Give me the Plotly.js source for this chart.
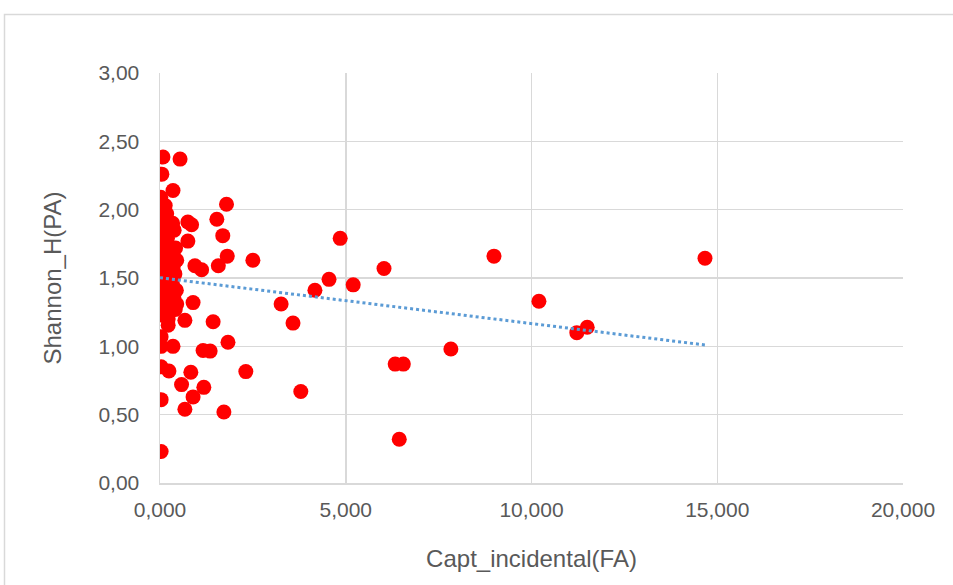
<!DOCTYPE html>
<html>
<head>
<meta charset="utf-8">
<script src="https://cdn.plot.ly/plotly-3.0.1.min.js"></script>
<style>html,body{margin:0;padding:0;background:#fff;}#chart{width:953px;height:585px;}</style>
</head>
<body>
<div id="chart"></div>
<script>
// Capt_incidental(FA) values (axis shown as 0,000 .. 20,000)
const captIncidental = [
  // dense cluster near zero
  0.02,0.03,0.02,0.04,0.03,0.02,0.05,0.03,0.02,0.04,0.03,0.02,0.05,0.03,0.02,0.04,0.03,0.02,0.03,0.04,0.02,
  0.14,0.18,0.12,0.22,0.16,0.20,0.13,0.25,0.17,0.21,0.15,0.24,0.19,0.12,0.23,0.18,0.14,0.26,0.16,0.22,
  0.34,0.38,0.42,0.31,0.45,0.36,0.40,0.33,0.44,0.37,0.30,0.41,
  // scattered
  0.08,0.54,0.05,0.35,1.79,0.75,1.53,0.85,1.69,0.75,4.85,1.81,8.99,14.67,2.50,6.03,1.57,0.94,1.12,
  4.55,4.17,5.20,10.20,3.26,0.89,0.45,1.43,3.58,0.67,0.22,11.50,11.22,
  1.83,1.16,1.35,0.35,0.03,0.03,7.83,6.33,6.55,2.31,0.83,0.24,0.03,
  0.58,1.18,3.79,0.89,0.03,0.67,1.72,6.44,0.03
];
// Shannon_H(PA) values
const shannonH = [
  2.09,2.05,1.99,1.95,1.91,1.86,1.82,1.78,1.74,1.70,1.66,1.62,1.58,1.54,1.50,1.46,1.42,1.38,1.34,1.29,1.23,
  2.03,1.97,1.93,1.88,1.84,1.79,1.75,1.71,1.68,1.64,1.60,1.55,1.51,1.47,1.43,1.39,1.35,1.28,1.24,1.20,
  1.90,1.85,1.72,1.67,1.63,1.59,1.53,1.46,1.41,1.36,1.32,1.27,
  2.385,2.37,2.26,2.14,2.04,1.91,1.93,1.89,1.81,1.77,1.79,1.66,1.66,1.645,1.63,1.57,1.59,1.59,1.56,
  1.49,1.41,1.45,1.33,1.31,1.32,1.31,1.18,1.17,1.19,1.155,1.14,1.10,
  1.03,0.97,0.965,1.00,1.07,1.00,0.98,0.87,0.87,0.815,0.81,0.82,0.85,
  0.72,0.70,0.67,0.63,0.61,0.54,0.52,0.32,0.23
];
// Linear trendline endpoints (as drawn)
const trendX = [0.0, 14.67];
const trendY = [1.502, 1.01];

const xTicks = [0, 5, 10, 15, 20];
const yTicks = [0, 0.5, 1.0, 1.5, 2.0, 2.5, 3.0];

const textColor = '#595959';
const gridColor = '#d9d9d9';
const fontFam = '"Liberation Sans", Arial, sans-serif';

const data = [
  {
    x: captIncidental, y: shannonH, type: 'scatter', mode: 'markers',
    marker: {color: '#ff0000', size: 15, line: {width: 0}},
    showlegend: false, hoverinfo: 'x+y'
  },
  {
    x: trendX, y: trendY, type: 'scatter', mode: 'lines',
    line: {color: '#5b9bd5', width: 3, dash: 'dot'},
    showlegend: false
  }
];

const layout = {
  width: 953, height: 585,
  margin: {l: 160, r: 50, t: 73, b: 102, pad: 0},
  paper_bgcolor: '#ffffff', plot_bgcolor: '#ffffff',
  separators: ',.',
  font: {family: fontFam, color: textColor, size: 21},
  xaxis: {
    range: [0, 20], tickvals: xTicks, tickformat: '.3f',
    showgrid: true, gridcolor: gridColor, gridwidth: 1.5,
    zeroline: false, showline: true, linecolor: gridColor, linewidth: 1.5,
    ticks: '', ticklabelstandoff: 7,
    tickfont: {family: fontFam, size: 21, color: textColor},
    title: {text: 'Capt_incidental(FA)', font: {family: fontFam, size: 24, color: textColor}, standoff: 30},
    fixedrange: true
  },
  yaxis: {
    range: [0, 3], tickvals: yTicks, tickformat: '.2f',
    showgrid: true, gridcolor: gridColor, gridwidth: 1.5,
    zeroline: false, showline: true, linecolor: gridColor, linewidth: 1.5,
    ticks: '', ticklabelstandoff: 15,
    tickfont: {family: fontFam, size: 21, color: textColor},
    title: {text: 'Shannon_H(PA)', font: {family: fontFam, size: 24, color: textColor}, standoff: 30},
    fixedrange: true
  },
  shapes: [{
    type: 'rect', xref: 'paper', yref: 'paper',
    x0: (4.5 - 160) / 743, x1: 1.2, y0: -0.4, y1: (483 - 14.5) / 410,
    line: {color: '#d9d9d9', width: 1.5}, fillcolor: 'rgba(0,0,0,0)', layer: 'below'
  }]
};

Plotly.newPlot('chart', data, layout, {displayModeBar: false, staticPlot: true});
</script>
</body>
</html>
